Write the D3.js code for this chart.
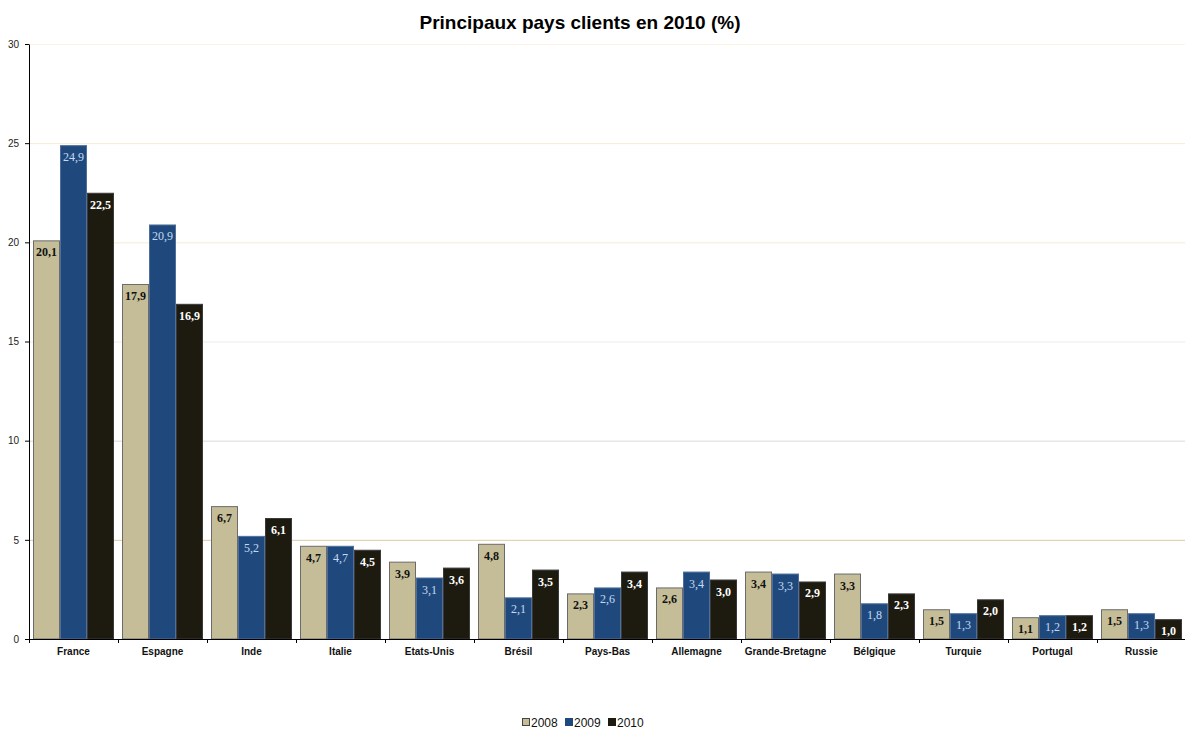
<!DOCTYPE html>
<html><head><meta charset="utf-8">
<script src="https://cdn.jsdelivr.net/npm/d3@7"></script>
<style>body{margin:0;background:#fff;}svg{display:block;}</style>
</head><body>
<svg id="chart" width="1185" height="729"></svg>
<script>
const categories = ["France","Espagne","Inde","Italie","Etats-Unis","Brésil","Pays-Bas","Allemagne","Grande-Bretagne","Bélgique","Turquie","Portugal","Russie"];
const seriesNames = ["2008","2009","2010"];
const values2008 = [20.1,17.9,6.7,4.7,3.9,4.8,2.3,2.6,3.4,3.3,1.5,1.1,1.5];
const values2009 = [24.9,20.9,5.2,4.7,3.1,2.1,2.6,3.4,3.3,1.8,1.3,1.2,1.3];
const values2010 = [22.5,16.9,6.1,4.5,3.6,3.5,3.4,3.0,2.9,2.3,2.0,1.2,1.0];
const yTicks = [0,5,10,15,20,25,30];
const title = "Principaux pays clients en 2010 (%)";

const colors = ["#c4bd97","#1f497d","#1d1b10"];
const strokes = ["#6b6b6b","#4f6f9a","#3a3a3a"];
const labelColors = ["#111","#c6d9f1","#fff"];
const labelWeights = ["bold","normal","bold"];
const gridColors = {5:"#dccba5",10:"#dadada",15:"#ececE4",20:"#f7ead2",25:"#f8ead4",30:"#fcf3e4"};

const series = [values2008, values2009, values2010];
const svg = d3.select("#chart");
const m = {left:29, right:0, top:44, bottom:90};
const W = 1186, H = 729;
const x = d3.scaleBand().domain(categories).range([m.left, W]).paddingInner(0).paddingOuter(0);
const xs = d3.scaleBand().domain(seriesNames).range([4, x.bandwidth()-4]);
const y = d3.scaleLinear().domain([0,30]).range([639, 44]);

// title
svg.append("text").attr("x",580).attr("y",29).attr("text-anchor","middle")
  .attr("font-family","Liberation Sans, Arial, sans-serif").attr("font-weight","bold")
  .attr("font-size",19).attr("fill","#000").text(title);

// gridlines
svg.append("g").selectAll("line").data(yTicks.filter(d=>d>0)).join("line")
  .attr("x1",m.left).attr("x2",W).attr("y1",d=>y(d)+0.5).attr("y2",d=>y(d)+0.5)
  .attr("stroke",d=>gridColors[d]).attr("stroke-width",1);

// bars
const g = svg.append("g");
categories.forEach((c,i)=>{
  seriesNames.forEach((s,j)=>{
    const v = series[j][i];
    const bx = x(c)+xs(s), bw = xs.bandwidth();
    g.append("rect").attr("x",bx+0.5).attr("y",y(v)+0.5).attr("width",bw-1).attr("height",y(0)-y(v)-0.5)
      .attr("fill",colors[j]).attr("stroke",strokes[j]).attr("stroke-width",1);
    g.append("text").attr("x",bx+bw/2).attr("y",y(v)+16).attr("text-anchor","middle")
      .attr("font-family","Liberation Serif, serif").attr("font-size",12)
      .attr("font-weight",labelWeights[j]).attr("fill",labelColors[j])
      .text(d3.format(".1f")(v).replace(".",","));
  });
});

// y axis
const ya = svg.append("g").attr("transform",`translate(${m.left},0)`)
  .call(d3.axisLeft(y).tickValues(yTicks).tickSize(4).tickSizeOuter(0).tickFormat(d=>d));
ya.select(".domain").attr("stroke","#000");
ya.selectAll(".tick line").attr("stroke","#000");
ya.selectAll("text").attr("font-family","Liberation Sans, Arial, sans-serif").attr("font-size",10).attr("fill","#222").attr("dx",-3);

// x axis
const xa = svg.append("g").attr("transform",`translate(0,${y(0)})`)
  .call(d3.axisBottom(x).tickSize(0).tickSizeOuter(0));
xa.select(".domain").attr("stroke","#000");
xa.selectAll("text").attr("font-family","Liberation Sans, Arial, sans-serif").attr("font-size",10)
  .attr("font-weight","bold").attr("fill","#111").attr("y",9).attr("dy","0.71em");
// boundary ticks
xa.append("g").selectAll("line").data(categories).join("line")
  .attr("x1",d=>x(d)+0.5).attr("x2",d=>x(d)+0.5).attr("y1",0).attr("y2",4).attr("stroke","#000");

// legend
const lg = svg.append("g").attr("transform","translate(522,727)");
let lx = 0;
seriesNames.forEach((s,j)=>{
  const it = lg.append("g").attr("transform",`translate(${lx},0)`);
  it.append("rect").attr("x",0.5).attr("y",-8.5).attr("width",7).attr("height",7).attr("fill",colors[j]).attr("stroke",j===0?"#444":colors[j]);
  it.append("text").attr("x",9).attr("y",0).attr("font-family","Liberation Sans, Arial, sans-serif").attr("font-size",12).attr("fill","#111").text(s);
  lx += 43;
});
</script>
</body></html>
